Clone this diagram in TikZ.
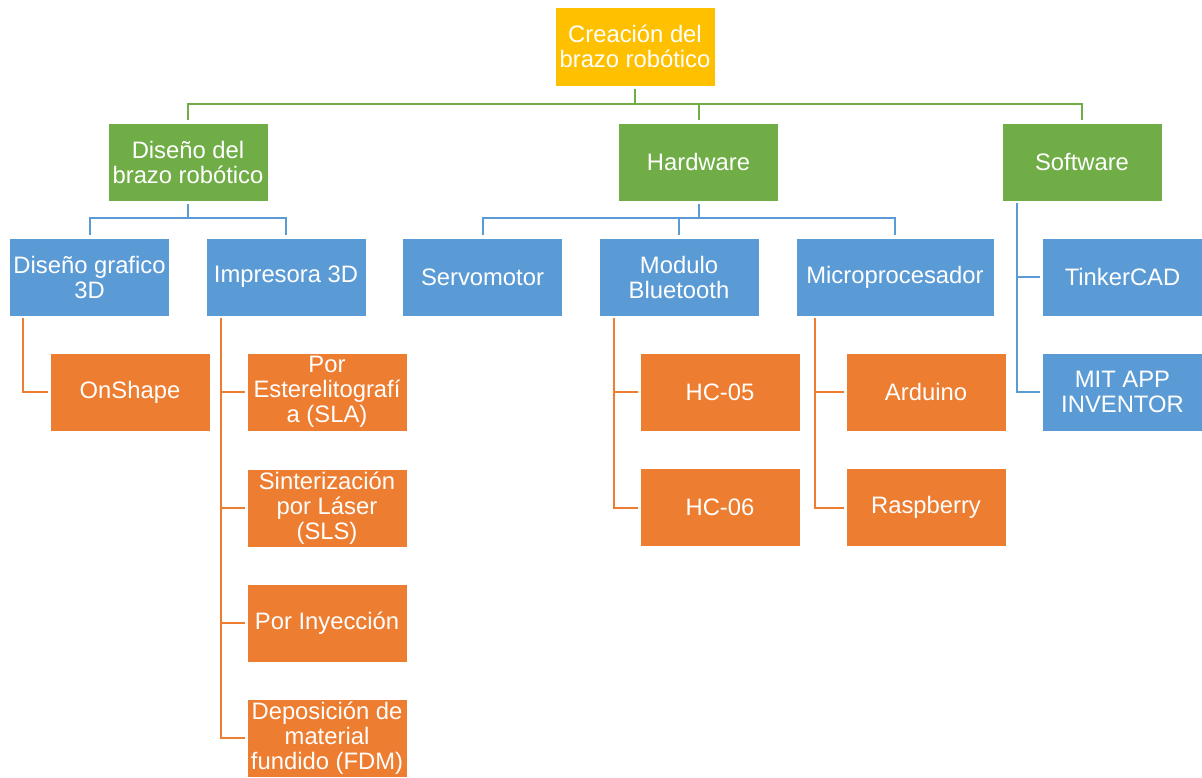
\documentclass[tikz,border=0pt]{standalone}
\usepackage{fontspec}
\setmainfont{Liberation Sans}
\definecolor{cgold}{HTML}{FFC000}
\definecolor{cgreen}{HTML}{70AD47}
\definecolor{cblue}{HTML}{5B9BD5}
\definecolor{corange}{HTML}{ED7D31}
\begin{document}
\begin{tikzpicture}[x=1pt,y=-1pt,
  box/.style={rectangle, draw=white, line width=0.6pt, inner sep=0pt,
    minimum width=160pt, minimum height=78pt, text=white, align=center,
    font=\fontsize{23.8}{25}\selectfont},
  rootbox/.style={box, fill=cgold},
  greenbox/.style={box, fill=cgreen},
  bluebox/.style={box, fill=cblue},
  orangebox/.style={box, fill=corange},
  link/.style={line width=2pt, shorten <=3pt, shorten >=3pt},
  gline/.style={link, draw=cgreen},
  bline/.style={link, draw=cblue},
  oline/.style={link, draw=corange, shorten <=2pt, shorten >=2pt},
  sline/.style={link, draw=cblue, shorten <=2pt, shorten >=2pt}]
\useasboundingbox (0,0) rectangle (1202,777);
\clip (0,0) rectangle (1202,777);

% top level
\node[rootbox, minimum height=79pt] (root) at (635,46.5) {Creación del\\brazo robótico};

% second level
\node[greenbox] (dis) at (188,162) {Diseño del\\brazo robótico};
\node[greenbox] (hw)  at (698.5,162) {Hardware};
\node[greenbox] (sw)  at (1082,162) {Software};

% third level
\node[bluebox] (dg)  at (89.5,277) {Diseño grafico\\3D};
\node[bluebox] (imp) at (286,277) {Impresora 3D};
\node[bluebox] (srv) at (482.5,277) {Servomotor};
\node[bluebox] (bt)  at (679,277) {Modulo\\Bluetooth};
\node[bluebox, minimum width=198pt] (mp) at (895,277) {Microprocesador};
\node[bluebox] (tc)  at (1122.5,277) {TinkerCAD};
\node[bluebox] (mit) at (1122.5,392) {MIT APP\\INVENTOR};

% fourth level
\node[orangebox] (os)  at (130,392) {OnShape};
\node[orangebox] (sla) at (327,392) {Por\\Esterelitografí\\a (SLA)};
\node[orangebox] (sls) at (327,508) {Sinterización\\por Láser\\(SLS)};
\node[orangebox] (iny) at (327,623) {Por Inyección};
\node[orangebox] (fdm) at (327,738) {Deposición de\\material\\fundido (FDM)};
\node[orangebox] (hc5) at (720,392) {HC-05};
\node[orangebox] (hc6) at (720,507.5) {HC-06};
\node[orangebox] (ard) at (926,392) {Arduino};
\node[orangebox] (ras) at (926,507.5) {Raspberry};

% root to second level
\draw[gline] (root.south) -- ++(0,18) -| (dis.north);
\draw[gline] (root.south) -- ++(0,18) -| (hw.north);
\draw[gline] (root.south) -- ++(0,18) -| (sw.north);

% second to third level
\draw[bline] (dis.south) -- ++(0,17) -| (dg.north);
\draw[bline] (dis.south) -- ++(0,17) -| (imp.north);
\draw[bline] (hw.south) -- ++(0,17) -| (srv.north);
\draw[bline] (hw.south) -- ++(0,17) -| (bt.north);
\draw[bline] (hw.south) -- ++(0,17) -| (mp.north);
\draw[sline] ([xshift=15pt]sw.south west) |- (tc.west);
\draw[sline] ([xshift=15pt]sw.south west) |- (mit.west);

% third to fourth level
\draw[oline] ([xshift=14pt]dg.south west) |- (os.west);
\draw[oline] ([xshift=15pt]imp.south west) |- (sla.west);
\draw[oline] ([xshift=15pt]imp.south west) |- (sls.west);
\draw[oline] ([xshift=15pt]imp.south west) |- (iny.west);
\draw[oline] ([xshift=15pt]imp.south west) |- (fdm.west);
\draw[oline] ([xshift=15pt]bt.south west) |- (hc5.west);
\draw[oline] ([xshift=15pt]bt.south west) |- (hc6.west);
\draw[oline] ([xshift=19pt]mp.south west) |- (ard.west);
\draw[oline] ([xshift=19pt]mp.south west) |- (ras.west);
\end{tikzpicture}
\end{document}
